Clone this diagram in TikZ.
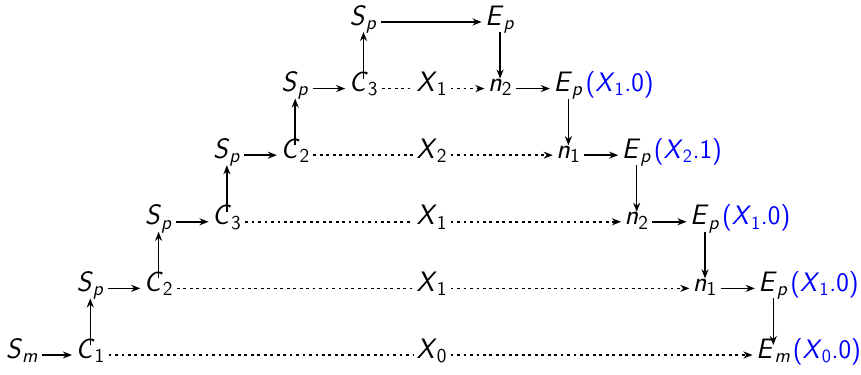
\documentclass[tikz,border=0pt]{standalone}
\usepackage{tikz}
\usetikzlibrary{arrows.meta,positioning}
\tikzset{
	font=\fontsize{20}{24}\selectfont\sffamily,
	>={Stealth[length=6.5pt,width=5pt]},
	term/.style={inner sep=2pt, text height=1.55ex, text depth=0.55ex},
	dots/.style={line width=1.2pt, dash pattern=on 2pt off 2.6pt},
	tag/.style={term, text=blue, inner sep=0pt, font=\fontsize{19}{23}\selectfont\sffamily}
}
\newcommand{\sym}[2]{\textsl{#1}\textsubscript{#2}}

\begin{document}
\begin{tikzpicture}[x=1.7075cm, y=1.665cm, line width=1.1pt]

\useasboundingbox (-0.322,-0.300) rectangle (12.284,5.330);

% row 0
\node[term] (sm) at (0,0) {\sym{S}{\textsl{m}}};
\node[term] (c1) at (1,0) {\sym{C}{1}};
\node[term] (x0) at (6,0) {\sym{X}{0}};
\node[term] (em) at (11,0) {\sym{E}{\textsl{m}}};
\node[tag, right=-1.5pt of em] (tem) {(\sym{X}{0}.0)};

% row 1
\node[term] (sp1) at (1,1) {\sym{S}{\textsl{p}}};
\node[term] (c2a) at (2,1) {\sym{C}{2}};
\node[term] (x1a) at (6,1) {\sym{X}{1}};
\node[term] (n1a) at (10,1) {\sym{\textsl{n}}{1}};
\node[term] (ep1) at (11,1) {\sym{E}{\textsl{p}}};
\node[tag, right=-1.5pt of ep1] (tep1) {(\sym{X}{1}.0)};

% row 2
\node[term] (sp2) at (2,2) {\sym{S}{\textsl{p}}};
\node[term] (c3a) at (3,2) {\sym{C}{3}};
\node[term] (x1b) at (6,2) {\sym{X}{1}};
\node[term] (n2a) at (9,2) {\sym{\textsl{n}}{2}};
\node[term] (ep2) at (10,2) {\sym{E}{\textsl{p}}};
\node[tag, right=-1.5pt of ep2] (tep2) {(\sym{X}{1}.0)};

% row 3
\node[term] (sp3) at (3,3) {\sym{S}{\textsl{p}}};
\node[term] (c2b) at (4,3) {\sym{C}{2}};
\node[term] (x2) at (6,3) {\sym{X}{2}};
\node[term] (n1b) at (8,3) {\sym{\textsl{n}}{1}};
\node[term] (ep3) at (9,3) {\sym{E}{\textsl{p}}};
\node[tag, right=-1.5pt of ep3] (tep3) {(\sym{X}{2}.1)};

% row 4
\node[term] (sp4) at (4,4) {\sym{S}{\textsl{p}}};
\node[term] (c3b) at (5,4) {\sym{C}{3}};
\node[term] (x1c) at (6,4) {\sym{X}{1}};
\node[term] (n2b) at (7,4) {\sym{\textsl{n}}{2}};
\node[term] (ep4) at (8,4) {\sym{E}{\textsl{p}}};
\node[tag, right=-1.5pt of ep4] (tep4) {(\sym{X}{1}.0)};

% row 5
\node[term] (sp5) at (5,5) {\sym{S}{\textsl{p}}};
\node[term] (ep5) at (7,5) {\sym{E}{\textsl{p}}};

% horizontal arrows
\draw[->] (sm) -- (c1);
\draw[->] (sp1) -- (c2a);
\draw[->] (sp2) -- (c3a);
\draw[->] (sp3) -- (c2b);
\draw[->] (sp4) -- (c3b);
\draw[->] (sp5) -- (ep5);
\draw[->] (n1a) -- (ep1);
\draw[->] (n2a) -- (ep2);
\draw[->] (n1b) -- (ep3);
\draw[->] (n2b) -- (ep4);

% dotted links
\draw[dots] (c1) -- (x0);
\draw[dots, ->] (x0) -- (em);
\draw[dots] (c2a) -- (x1a);
\draw[dots, ->] (x1a) -- (n1a);
\draw[dots] (c3a) -- (x1b);
\draw[dots, ->] (x1b) -- (n2a);
\draw[dots] (c2b) -- (x2);
\draw[dots, ->] (x2) -- (n1b);
\draw[dots] (c3b) -- (x1c);
\draw[dots, ->] (x1c) -- (n2b);

% up the left side
\draw[->] (c1) -- (sp1);
\draw[->] (c2a) -- (sp2);
\draw[->] (c3a) -- (sp3);
\draw[->] (c2b) -- (sp4);
\draw[->] (c3b) -- (sp5);

% down the right side
\draw[->] (ep5) -- (n2b);
\draw[->] (ep4) -- (n1b);
\draw[->] (ep3) -- (n2a);
\draw[->] (ep2) -- (n1a);
\draw[->] (ep1) -- (em);

\end{tikzpicture}
\end{document}
